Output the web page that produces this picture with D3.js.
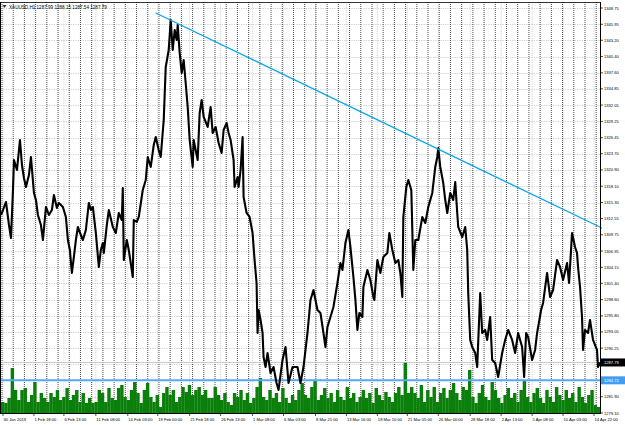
<!DOCTYPE html>
<html><head><meta charset="utf-8">
<script src="https://cdn.jsdelivr.net/npm/d3@7"></script>
<style>body{margin:0;background:#fff}svg{display:block}text{font-family:"Liberation Sans",Arial,sans-serif}</style>
</head><body><svg id="c" width="625" height="425"></svg>
<script>
const symbolTitle = "XAUUSD,H1  1287.99 1288.15 1287.54 1287.79";
const totalBars = 1200;
const priceBars = [0,4,10,16,20,24,26,32,38,42,46,50,56,60,66,70,74,80,84,90,96,102,106,112,116,124,130,134,138,142,146,150,154,160,164,170,176,180,184,190,196,200,204,206,212,216,224,230,236,242,244,246,252,256,264,266,272,276,284,290,294,300,306,310,316,320,326,330,336,340,344,348,352,354,358,362,366,370,374,378,384,386,394,398,402,406,414,420,424,430,436,442,446,452,456,460,466,468,474,476,480,484,486,492,498,504,508,512,514,516,520,524,526,530,534,540,546,552,556,564,570,576,584,594,600,606,614,620,626,634,640,646,650,654,660,666,674,680,684,690,696,700,706,710,714,718,724,726,734,740,746,748,754,760,766,774,778,784,790,796,800,804,806,812,816,822,826,830,836,844,850,856,864,870,874,876,880,886,890,894,900,906,910,914,916,924,930,934,936,940,944,950,954,960,964,970,974,980,984,990,996,1004,1010,1016,1024,1030,1036,1044,1048,1052,1056,1064,1070,1074,1082,1086,1094,1100,1106,1114,1120,1126,1134,1138,1144,1150,1154,1156,1160,1164,1166,1170,1176,1180,1186,1194,1196,1200];
const priceVals = [1313.15,1314.01,1315.39,1311.43,1309.20,1317.45,1322.61,1320.89,1326.05,1321.75,1319.51,1317.97,1320.03,1323.13,1316.94,1315.73,1313.15,1311.43,1308.85,1314.53,1313.15,1314.01,1316.59,1314.36,1315.22,1314.53,1312.81,1308.85,1307.13,1303.18,1305.93,1308.85,1311.09,1309.71,1308.85,1310.57,1315.22,1314.01,1314.53,1310.06,1304.21,1307.13,1308.34,1306.62,1311.43,1314.01,1311.09,1310.06,1313.50,1312.29,1317.80,1305.41,1308.85,1307.13,1302.49,1312.29,1311.95,1312.81,1317.45,1319.17,1323.13,1321.41,1325.19,1326.57,1324.33,1323.13,1329.49,1338.60,1341.53,1346.69,1341.53,1344.97,1343.25,1345.83,1341.01,1337.57,1339.81,1335.85,1331.73,1326.05,1321.41,1326.05,1322.61,1330.69,1332.93,1330.01,1328.29,1331.73,1327.25,1328.29,1325.53,1323.81,1327.77,1328.97,1327.25,1326.05,1322.61,1317.97,1319.69,1317.97,1320.89,1326.57,1316.25,1313.50,1312.81,1310.06,1305.41,1301.46,1292.86,1296.82,1295.10,1292.86,1288.73,1287.01,1289.42,1285.98,1287.01,1284.26,1283.06,1288.22,1290.45,1284.26,1287.01,1287.01,1284.26,1287.01,1292.86,1298.54,1300.25,1296.82,1296.30,1292.86,1290.45,1293.89,1295.61,1297.33,1301.46,1304.90,1303.69,1308.34,1310.57,1307.65,1302.49,1298.54,1293.38,1296.30,1295.61,1300.77,1303.69,1301.97,1299.05,1298.54,1305.41,1303.18,1305.93,1306.62,1310.06,1307.13,1304.90,1305.41,1303.18,1299.05,1312.81,1317.97,1319.17,1317.45,1303.69,1308.85,1308.85,1312.81,1311.78,1314.53,1316.94,1321.41,1323.13,1324.67,1321.41,1318.65,1315.73,1313.50,1316.94,1315.73,1318.83,1313.50,1311.09,1309.37,1311.09,1307.13,1299.74,1291.66,1290.45,1289.42,1287.01,1299.74,1292.86,1293.38,1291.66,1295.61,1288.22,1287.70,1285.29,1289.42,1291.66,1293.38,1291.66,1289.42,1292.86,1290.45,1285.29,1292.86,1292.17,1288.22,1289.94,1292.86,1296.82,1298.02,1303.18,1299.05,1300.25,1305.41,1304.21,1301.97,1304.90,1301.46,1310.06,1307.65,1306.62,1304.21,1300.77,1295.61,1289.94,1293.38,1292.86,1295.10,1291.66,1289.94,1287.01,1287.79];
const volumes = [1100,1000,1500,4500,2300,1300,2300,2500,1100,1800,3100,1100,2000,1500,1100,2000,1600,2300,1300,1600,2500,1300,1800,2300,1100,2000,1000,1500,1000,1100,2300,2000,1100,2500,1500,1300,2500,2800,1600,1300,2300,3100,2000,1000,2300,3000,1600,1100,1800,600,2000,2600,1800,2300,1100,1600,2600,2100,2800,1800,2300,2600,1800,2300,1500,
1500,2600,1800,1300,2000,1100,800,2000,1600,2300,1300,2000,1000,1500,2600,3500,1600,1300,2300,1500,2000,1100,2500,1500,1000,1800,1300,2300,3000,1800,1500,2600,3300,1300,1800,2500,1500,2000,1100,2300,1600,1300,2600,1500,2000,1100,1600,2300,1500,2000,1000,2500,1800,1300,2100,1600,1100,2000,2600,1800,5100,2000,
2600,2000,1500,2800,1100,2300,1600,2600,1100,2000,2500,1500,2300,3000,2000,1300,2600,2300,4300,1600,1000,2000,2800,1600,1300,3100,2300,1500,1000,1800,2500,1500,2000,1100,2300,3300,1600,1100,2000,2500,1500,1000,2300,1600,1100,2600,1800,1300,2300,1500,2000,1100,2600,1600,1000,1800,2300,800,600];
const timeLabels = ["30 Jan 2019","1 Feb 18:00","6 Feb 13:00","11 Feb 08:00","14 Feb 03:00","19 Feb 00:00","21 Feb 18:00","26 Feb 13:00","1 Mar 08:00","6 Mar 03:00","8 Mar 21:00","13 Mar 16:00","18 Mar 10:00","21 Mar 05:00","26 Mar 00:00","28 Mar 18:00","2 Apr 13:00","5 Apr 08:00","10 Apr 03:00","14 Apr 22:00"];
const timeBars = [4,66,126,190,254,314,378,440,504,566,630,692,754,814,876,940,1002,1064,1126,1188];
const priceTicks = [1279.10,1281.90,1284.70,1287.45,1290.25,1293.05,1295.80,1298.60,1301.40,1304.15,1306.95,1309.75,1312.55,1315.30,1318.10,1320.90,1323.70,1326.45,1329.25,1332.05,1334.85,1337.60,1340.40,1343.20,1345.95,1348.75];
const trendBars = [310, 1204];
const trendVals = [1347.89, 1310.92];
const supportLevel = 1284.72;
const lastPrice = 1287.79;
const tradingDays = 54;
const dayBars = 22.46;

const svg = d3.select("#c");
const L = 1, R = 600, T = 2, B = 413;
const x = d3.scaleLinear().domain([0, totalBars]).range([L, R]);
const y = d3.scaleLinear().domain([1279.10, 1348.75]).range([413, 8]);
const yv = d3.scaleLinear().domain([0, 10000]).range([B, B - 100]);
const xv = d3.scaleLinear().domain([0, volumes.length]).range([L, R]);

svg.append("rect").attr("width",625).attr("height",425).attr("fill","#fff");
const g = svg.append("g");
g.selectAll(".hg").data(priceTicks).enter().append("line")
  .attr("x1",L).attr("x2",R).attr("y1",d=>Math.round(y(d))+0.5).attr("y2",d=>Math.round(y(d))+0.5)
  .attr("stroke","#c4c4c4").attr("stroke-width",0.8).attr("stroke-dasharray","1.2,1.2");
g.selectAll(".vg").data(timeBars).enter().append("line")
  .attr("x1",d=>x(d)).attr("x2",d=>x(d)).attr("y1",T).attr("y2",B)
  .attr("stroke","#c4c4c4").attr("stroke-width",0.8).attr("stroke-dasharray","1.2,1.2");
g.selectAll(".sep").data(d3.range(tradingDays)).enter().append("line")
  .attr("x1",d=>x(2+d*dayBars)).attr("x2",d=>x(2+d*dayBars)).attr("y1",T).attr("y2",B)
  .attr("stroke","#222").attr("stroke-width",0.8).attr("stroke-dasharray","1,1");

const vw = (R-L)/volumes.length;
g.selectAll(".vol").data(volumes).enter().append("rect")
  .attr("x",(d,i)=>xv(i)).attr("width",vw+0.2)
  .attr("y",d=>yv(d)).attr("height",d=>B-yv(d)).attr("fill","#0a800a");

g.append("line").attr("x1",L).attr("x2",R).attr("y1",y(lastPrice)).attr("y2",y(lastPrice))
  .attr("stroke","#bdbdbd").attr("stroke-width",0.8);
g.append("line").attr("x1",L).attr("x2",R).attr("y1",y(supportLevel)).attr("y2",y(supportLevel))
  .attr("stroke","#55a8f4").attr("stroke-width",2);

const pts = priceBars.map((b,i)=>[b, priceVals[i]]);
g.append("path").datum(pts)
  .attr("d", d3.line().x(d=>x(d[0])).y(d=>y(d[1])))
  .attr("fill","none").attr("stroke","#000").attr("stroke-width",2.1).attr("stroke-linejoin","round");

g.append("line").attr("x1",x(trendBars[0])).attr("y1",y(trendVals[0]))
  .attr("x2",x(trendBars[1])).attr("y2",y(trendVals[1]))
  .attr("stroke","#0aa6ea").attr("stroke-width",1.3);

svg.append("line").attr("x1",0.5).attr("x2",0.5).attr("y1",T).attr("y2",B).attr("stroke","#000");
svg.append("line").attr("x1",0).attr("x2",R).attr("y1",T+0.5).attr("y2",T+0.5).attr("stroke","#000").attr("stroke-width",0.8);
svg.append("line").attr("x1",R+0.5).attr("x2",R+0.5).attr("y1",T).attr("y2",B+1).attr("stroke","#000");
svg.append("line").attr("x1",0).attr("x2",R+1).attr("y1",B+0.5).attr("y2",B+0.5).attr("stroke","#000");

const fs = 4.1;
const hidden = v => Math.abs(y(v)-y(lastPrice))<6 || Math.abs(y(v)-y(supportLevel))<6;
svg.selectAll(".pt").data(priceTicks).enter().append("line")
  .attr("x1",R).attr("x2",R+3).attr("y1",d=>y(d)).attr("y2",d=>y(d)).attr("stroke","#000").attr("stroke-width",0.7);
svg.selectAll(".pl").data(priceTicks.filter(v=>!hidden(v))).enter().append("text")
  .attr("x",R+4).attr("y",d=>y(d)+1.5).attr("font-size",fs).attr("fill","#000").text(d=>d.toFixed(2));
svg.append("rect").attr("x",R+1).attr("y",y(lastPrice)-4).attr("width",24).attr("height",8).attr("fill","#000");
svg.append("text").attr("x",R+4).attr("y",y(lastPrice)+1.5).attr("font-size",fs).attr("fill","#fff").text(lastPrice.toFixed(2));
svg.append("rect").attr("x",R+1).attr("y",y(supportLevel)-4).attr("width",24).attr("height",8).attr("fill","#3f9ef2");
svg.append("text").attr("x",R+4).attr("y",y(supportLevel)+1.5).attr("font-size",fs).attr("fill","#fff").text(supportLevel.toFixed(2));

svg.selectAll(".tt").data(timeBars).enter().append("line")
  .attr("x1",d=>x(d)).attr("x2",d=>x(d)).attr("y1",B).attr("y2",B+3).attr("stroke","#000").attr("stroke-width",0.7);
svg.selectAll(".tl").data(timeLabels).enter().append("text")
  .attr("x",(d,i)=>x(timeBars[i])+0.5).attr("y",421).attr("font-size",fs).attr("fill","#000").text(d=>d);

svg.append("path").attr("d","M2.5,5 L6.5,5 L4.5,8 Z").attr("fill","#333");
svg.append("text").attr("x",9).attr("y",8.7).attr("font-size",4.6).attr("fill","#000").text(symbolTitle);
</script></body></html>
